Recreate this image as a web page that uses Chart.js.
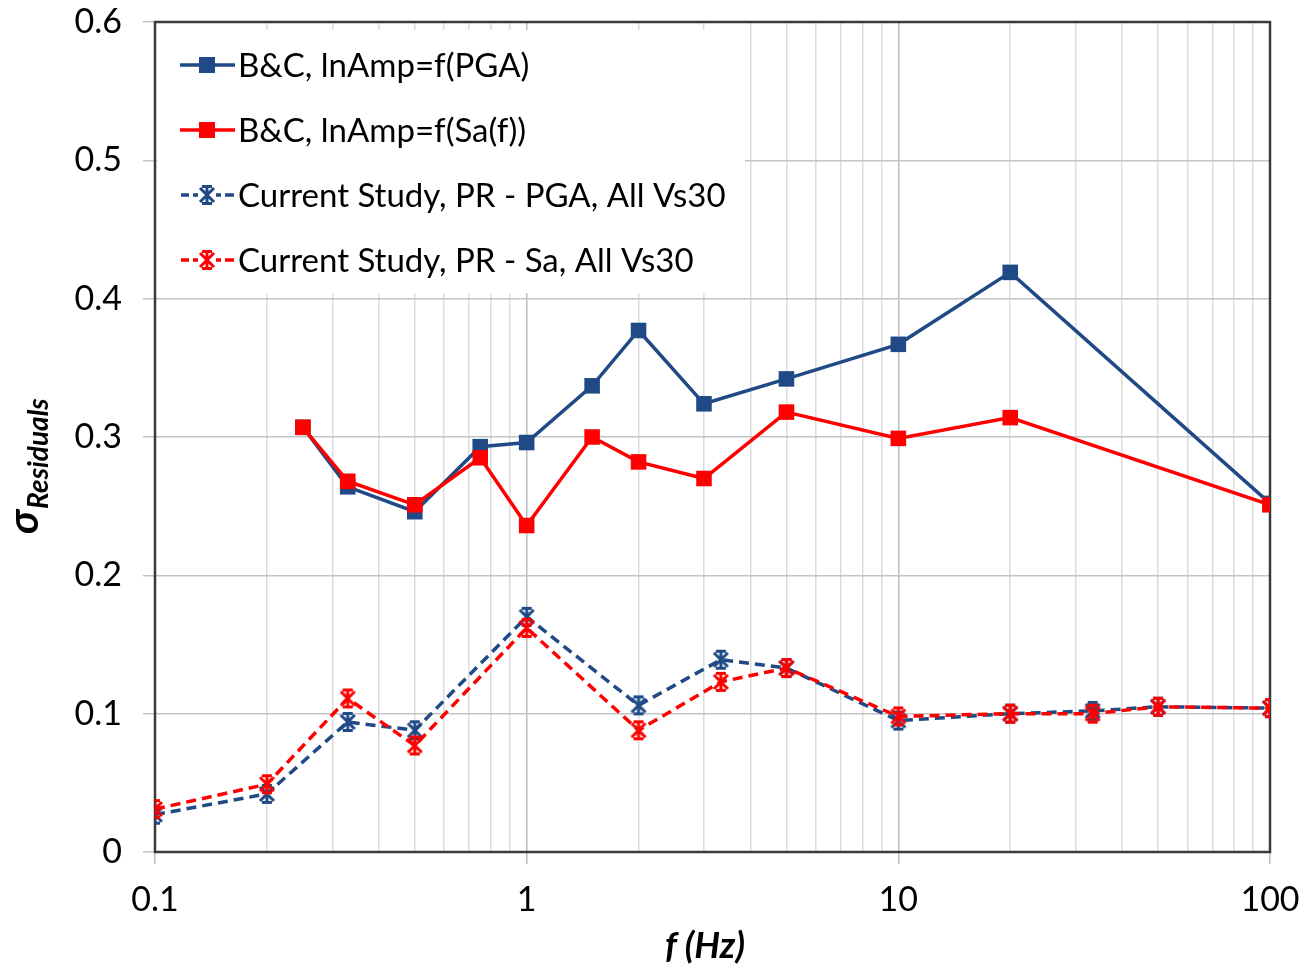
<!DOCTYPE html>
<html><head><meta charset="utf-8">
<script src="https://cdn.jsdelivr.net/npm/chart.js@4.4.1/dist/chart.umd.min.js"></script>
<style>html,body{margin:0;padding:0;background:#fff;} #wrap{width:1302px;height:968px;position:relative;}</style>
</head><body><div id="wrap"><canvas id="c" width="1302" height="968"></canvas></div>
<script>
// ---- data ----
const freqBC = [0.25, 0.33, 0.5, 0.75, 1, 1.5, 2, 3, 5, 10, 20, 100];
const bcPGA  = [0.307, 0.264, 0.246, 0.293, 0.296, 0.337, 0.377, 0.324, 0.342, 0.367, 0.419, 0.252];
const bcSa   = [0.307, 0.268, 0.251, 0.285, 0.236, 0.300, 0.282, 0.270, 0.318, 0.299, 0.314, 0.251];
const freqCS = [0.1, 0.2, 0.33, 0.5, 1, 2, 3.33, 5, 10, 20, 33.33, 50, 100];
const csPGA  = [0.027, 0.042, 0.094, 0.088, 0.170, 0.106, 0.139, 0.133, 0.095, 0.100, 0.102, 0.105, 0.104];
const csSa   = [0.031, 0.049, 0.111, 0.077, 0.162, 0.088, 0.123, 0.133, 0.098, 0.100, 0.100, 0.105, 0.104];
const xTickLabels = ['0.1', '1', '10', '100'];
const yTickLabels = ['0', '0.1', '0.2', '0.3', '0.4', '0.5', '0.6'];
const seriesLabels = ['B&C, lnAmp=f(PGA)', 'B&C, lnAmp=f(Sa(f))', 'Current Study, PR - PGA, All Vs30', 'Current Study, PR - Sa, All Vs30'];
const xTitle = 'f (Hz)';
const yTitleMain = 'σ';
const yTitleSub = 'Residuals';

// ---- styles ----
const BLUE = '#1f4a85';
const RED = '#ff0000';
const FONT = 'Lato';

function makeStar(color) {
  const c = document.createElement('canvas');
  c.width = 22; c.height = 22;
  const g = c.getContext('2d');
  g.strokeStyle = color; g.lineWidth = 3; g.lineCap = 'butt';
  g.beginPath();
  g.moveTo(4, 4); g.lineTo(18, 18);
  g.moveTo(18, 4); g.lineTo(4, 18);
  g.moveTo(11, 2); g.lineTo(11, 20);
  g.moveTo(6, 2.5); g.lineTo(16, 2.5);
  g.moveTo(6, 19.5); g.lineTo(16, 19.5);
  g.stroke();
  return c;
}
const starBlue = makeStar(BLUE);
const starRed = makeStar(RED);

const toXY = (xs, ys) => xs.map((x, i) => ({x: x, y: ys[i]}));

const xMajor = [0.1, 1, 10, 100];
const isMajor = v => xMajor.some(m => Math.abs(Math.log10(v) - Math.log10(m)) < 1e-9);
const xGridVals = [];
for (let e = -1; e <= 1; e++) for (let m = 1; m <= 9; m++) xGridVals.push(Number((m * Math.pow(10, e)).toPrecision(6)));
xGridVals.push(100);

const datasets = [
  {label: seriesLabels[0], data: toXY(freqBC, bcPGA), borderColor: BLUE, backgroundColor: BLUE, borderWidth: 3.5,
   pointStyle: 'rect', pointRadius: 11, pointHoverRadius: 11, pointBorderWidth: 0, order: 4, _marker: 'rect'},
  {label: seriesLabels[1], data: toXY(freqBC, bcSa), borderColor: RED, backgroundColor: RED, borderWidth: 3.5,
   pointStyle: 'rect', pointRadius: 11, pointHoverRadius: 11, pointBorderWidth: 0, order: 3, _marker: 'rect'},
  {label: seriesLabels[2], data: toXY(freqCS, csPGA), borderColor: BLUE, backgroundColor: BLUE, borderWidth: 3.5,
   borderDash: [10, 6], pointStyle: starBlue, pointRadius: 10, order: 2, _marker: starBlue},
  {label: seriesLabels[3], data: toXY(freqCS, csSa), borderColor: RED, backgroundColor: RED, borderWidth: 3.5,
   borderDash: [10, 6], pointStyle: starRed, pointRadius: 10, order: 1, _marker: starRed}
];

const decorPlugin = {
  id: 'decor',
  beforeDatasetsDraw(chart) {
    const ctx = chart.ctx, a = chart.chartArea;
    ctx.save();
    // legend background
    ctx.fillStyle = '#ffffff';
    ctx.fillRect(a.left + 2, a.top + 8, 588, 263);
    // plot border
    ctx.strokeStyle = '#3a3a3a';
    ctx.lineWidth = 2.5;
    ctx.strokeRect(a.left, a.top, a.right - a.left, a.bottom - a.top);
    // legend items
    const rows = [65, 130, 195, 260];
    ctx.font = '33px ' + FONT;
    ctx.textBaseline = 'middle';
    ctx.textAlign = 'left';
    datasets.forEach((d, i) => {
      const y = rows[i];
      ctx.strokeStyle = d.borderColor;
      ctx.lineWidth = 3.5;
      ctx.beginPath();
      if (d.borderDash) {
        ctx.moveTo(181, y); ctx.lineTo(189, y);
        ctx.moveTo(193, y); ctx.lineTo(198, y);
        ctx.moveTo(216, y); ctx.lineTo(221, y);
        ctx.moveTo(225, y); ctx.lineTo(234, y);
      } else {
        ctx.moveTo(180, y); ctx.lineTo(235, y);
      }
      ctx.stroke();
      if (d._marker === 'rect') {
        ctx.fillStyle = d.backgroundColor;
        ctx.fillRect(199, y - 8, 16, 16);
      } else {
        ctx.drawImage(d._marker, 196, y - 11);
      }
      ctx.fillStyle = '#000';
      ctx.fillText(d.label, 238, y + 1);
    });
    ctx.restore();
  },
  afterDraw(chart) {
    const ctx = chart.ctx;
    ctx.save();
    ctx.fillStyle = '#000';
    // x title
    ctx.font = 'italic bold 36px ' + FONT;
    ctx.textAlign = 'center';
    ctx.textBaseline = 'middle';
    ctx.fillText(xTitle, 705, 946);
    // y title with subscript
    ctx.translate(38, 534);
    ctx.rotate(-Math.PI / 2);
    ctx.textAlign = 'left';
    ctx.textBaseline = 'alphabetic';
    ctx.font = 'italic bold 42px ' + FONT;
    ctx.fillText(yTitleMain, 0, 0);
    const w = ctx.measureText(yTitleMain).width;
    ctx.font = 'italic bold 28px ' + FONT;
    ctx.fillText(yTitleSub, w + 1, 10);
    ctx.restore();
  }
};

new Chart(document.getElementById('c'), {
  type: 'line',
  data: {datasets: datasets},
  options: {
    responsive: false,
    animation: false,
    events: [],
    layout: {padding: {left: 0, top: 22, right: 32, bottom: 0}},
    plugins: {legend: {display: false}, tooltip: {enabled: false}},
    scales: {
      x: {
        type: 'logarithmic', min: 0.1, max: 100,
        afterBuildTicks: s => { s.ticks = xGridVals.map(v => ({value: v, major: isMajor(v)})); },
        afterFit: s => { s.height = 116; s.paddingLeft = 0; s.paddingRight = 0; },
        ticks: {
          autoSkip: false, maxRotation: 0, padding: 16,
          color: '#000', font: {family: FONT, size: 34},
          callback: (v) => { const k = xMajor.findIndex(m => Math.abs(Math.log10(v) - Math.log10(m)) < 1e-9); return k >= 0 ? xTickLabels[k] : ''; }
        },
        grid: {
          color: c => (c.tick && isMajor(c.tick.value)) ? '#bdbdbd' : '#dcdcdc',
          tickColor: c => (c.tick && isMajor(c.tick.value)) ? '#bdbdbd' : 'rgba(0,0,0,0)',
          lineWidth: 1.5, tickLength: 12, drawTicks: true
        },
        border: {display: false}
      },
      y: {
        type: 'linear', min: 0, max: 0.6,
        afterFit: s => { s.width = 155; s.paddingTop = 0; s.paddingBottom = 0; },
        ticks: {
          stepSize: 0.1, padding: 21, color: '#000', font: {family: FONT, size: 34},
          callback: (v, i) => yTickLabels[i]
        },
        grid: {color: '#c4c4c4', tickColor: '#c4c4c4', lineWidth: 1.5, tickLength: 12},
        border: {display: false}
      }
    }
  },
  plugins: [decorPlugin]
});
</script>
</body></html>
